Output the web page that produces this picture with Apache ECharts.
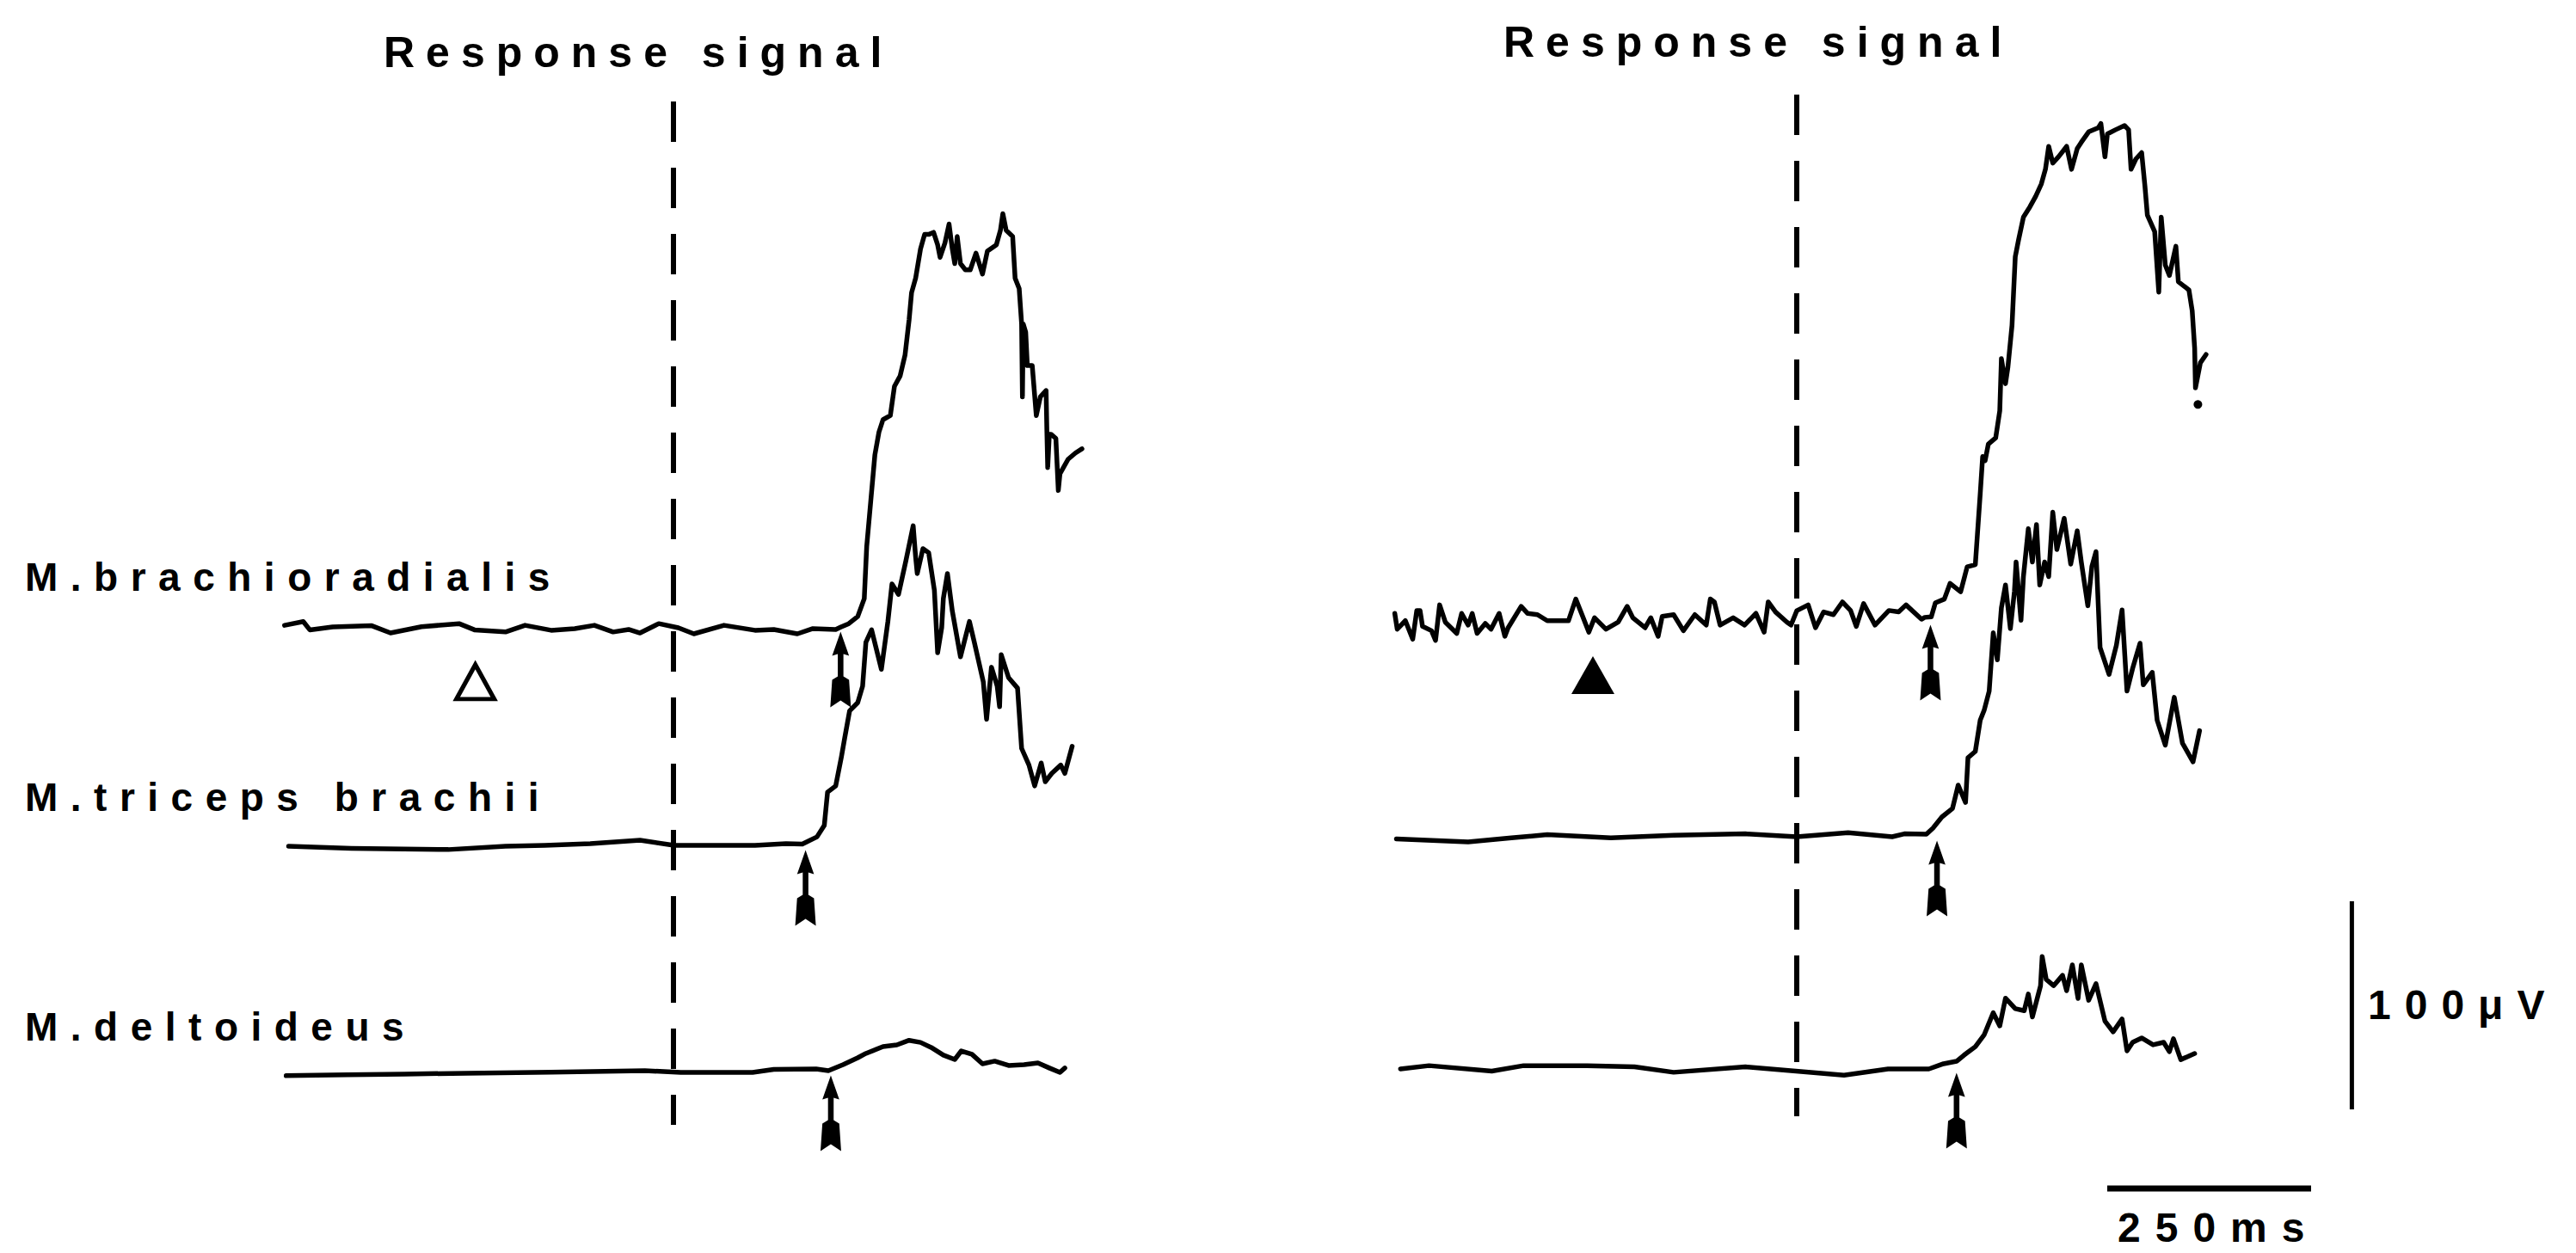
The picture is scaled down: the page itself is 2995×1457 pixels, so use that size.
<!DOCTYPE html>
<html>
<head>
<meta charset="utf-8">
<script src="https://cdn.jsdelivr.net/npm/echarts@6/dist/echarts.min.js"></script>
<style>
html,body{margin:0;padding:0;background:#fff;}
#c{width:2995px;height:1457px;}
#c svg text{letter-spacing:14px;}
</style>
</head>
<body>
<div id="c"></div>
<script>
// ---------------- DATA (time in ms relative to response signal, amplitude in µV) ----------------
const muscleLabels = ['M.brachioradialis', 'M.triceps brachii', 'M.deltoideus'];
const panelTitle = 'Response signal';
const responseSignalMs = 0;
const scaleBarMs = 250;
const scaleBarUV = 100;
const scaleBarLabels = ['100μV', '250ms'];

const leftBrachioradialis = [
  [-477,1.2],[-454,3],[-446,-1],[-418,0.4],[-370,1],[-347,-2.5],[-309,0.5],[-263,2],[-244,-1],[-206,-2],
  [-182,1.2],[-150,-1.2],[-121,-0.4],[-97,1.2],[-74,-2],[-55,-0.8],[-41,-2.5],[-18,2],[6,0],[25,-2.9],
  [62,1.2],[100,-1.2],[123,-0.8],[152,-2.9],[171,-0.4],[199,-0.8],[205,0.3],[215,2],[226,5.4],[234,14],
  [237,39],[242,61],[247,83],[252,94],[257,100],[266,102],[271,116],[278,121],[284,131],[289,148],
  [292,161],[297,168],[303,182],[308,189],[313,189],[319,190],[324,184],[327,178],[333,185],[338,194],
  [342,182],[345,175],[348,188],[352,175],[358,172],[364,172],[371,180],[379,170],[385,181],[396,184],
  [401,191],[404,199],[408,191],[416,188],[419,168],[424,163],[427,146],[428,111],[429,146],[432,142],
  [434,126],[440,126],[445,102],[450,111],[457,114],[458,94],[459,77],[461,93],[463,93],[469,91],
  [472,66],[474,74],[484,81],[493,84],[501,86]
];
const leftTriceps = [
  [-472,0],[-395,-1],[-276,-1.6],[-206,0],[-158,0.4],[-102,1.2],[-41,2.9],[1,0.4],[53,0.4],[100,0.4],
  [138,1.2],[158,1],[176,4.5],[185,10],[189,26],[199,29],[206,43],[210,52],[216,65],[226,69],
  [232,77],[236,98],[243,104],[255,85],[263,108],[268,126],[276,121],[285,137],[294,154],[297,139],
  [299,131],[306,143],[313,141],[320,123],[324,93],[329,105],[331,119],[336,131],[342,113],[352,91],
  [363,108],[369,98],[380,79],[384,61],[390,86],[397,77],[400,67],[402,92],[411,81],[422,76],
  [427,47],[436,39],[443,29],[451,40],[456,31],[464,35],[475,39],[480,35],[489,48]
];
const leftDeltoideus = [
  [-475,-2],[-400,-1.5],[-330,-1.2],[-254,-0.8],[-150,-0.3],[-35,0.4],[9,-0.4],[97,-0.4],[123,1],[175,1.2],
  [190,0.4],[208,3.3],[226,6.6],[236,8.7],[257,12],[274,12.8],[289,15],[303,14],[316,11.6],[331,7.9],
  [345,5.8],[353,9.9],[366,8.3],[379,3.7],[394,5],[411,2.9],[430,3.3],[447,4.1],[461,1.7],[474,-0.4],[480,1.7]
];
const rightBrachioradialis = [
  [-493,3.6],[-490,-4],[-480,0.1],[-471,-8.8],[-466,5],[-462,5],[-459,-2.6],[-448,-4.7],[-443,-9.4],[-438,7.7],
  [-431,-0.6],[-417,-6],[-411,3.6],[-403,-2],[-398,3.6],[-392,-6],[-382,-1.2],[-375,-4],[-365,3.6],[-358,-7.4],
  [-354,-3.3],[-338,7],[-330,3.6],[-318,3],[-306,0.1],[-280,0.1],[-271,10.5],[-264,3.6],[-255,-5.4],[-248,1.5],
  [-234,-4],[-219,-0.6],[-208,7],[-201,1.5],[-186,-3.3],[-179,1.5],[-170,-7.4],[-165,2.2],[-151,3],[-139,-4.7],
  [-125,3],[-111,-2],[-106,10.5],[-101,9.1],[-94,-2],[-78,1.5],[-64,-2],[-50,3.6],[-40,-5.4],[-35,9.1],
  [-26,4.3],[-12,-0.6],[-7,-2],[0,4.9],[14,7.7],[23,-3.3],[33,4.3],[45,3],[56,9.1],[66,5],
  [73,-2.6],[82,8.3],[96,-2],[113,5],[125,4.3],[134,7.7],[153,0.8],[157,1.7],[165,2],[170,8.7],
  [181,10.5],[188,18],[201,14],[209,26],[219,27],[225,61],[228,79],[231,77],[235,85],[244,88],
  [249,101],[251,126],[256,114],[259,122],[264,142],[268,175],[272,183],[278,194],[286,199],[293,204],
  [300,210],[305,217],[309,228],[314,220],[321,223],[331,228],[337,217],[344,227],[349,230],[358,235],
  [370,237],[373,239],[378,223],[381,234],[391,236],[402,238],[407,236],[410,217],[416,222],[423,225],
  [427,209],[430,195],[439,187],[444,158],[447,194],[452,171],[457,166],[465,180],[468,163],[481,159],
  [485,149],[488,131],[489,112],[495,124],[502,128]
];
const rightBrachioradialisDot = [[492,104]];
const rightTriceps = [
  [-491,-1],[-403,-2.5],[-350,-0.5],[-306,1],[-228,-0.5],[-151,0.7],[-63,1.4],[0,0],[63,2],[117,0],
  [132,1.4],[159,1.2],[167,4.1],[178,9.5],[191,13.6],[198,24.8],[207,16.5],[210,38],[219,41],[225,56],
  [230,61],[236,70],[241,98],[246,85],[251,110],[256,121],[262,100],[267,118],[269,132],[275,104],
  [278,125],[284,148],[289,132],[294,150],[298,121],[304,132],[309,125],[314,156],[319,138],[328,153],
  [336,131],[344,147],[349,132],[357,111],[362,130],[367,137],[372,91],[383,78],[392,92],[399,109],
  [405,70],[412,81],[421,93],[425,73],[436,79],[442,56],[452,44],[463,67],[473,45],[486,36],[494,51]
];
const rightDeltoideus = [
  [-486,0],[-451,1.6],[-374,-1],[-335,1.6],[-257,1.6],[-199,1],[-151,-1.6],[-63,1],[58,-3],[112,0],
  [162,0],[180,2.5],[196,3.7],[205,6.6],[219,10.7],[230,16.5],[241,27],[249,20.7],[256,34],[268,29],
  [279,28],[284,36],[289,25],[299,40],[301,54],[306,43],[315,40],[326,45],[331,37.6],[338,50],
  [345,33.9],[349,50],[358,33],[367,41],[378,23],[388,17.8],[399,24],[405,8.7],[412,12.8],[423,14.9],
  [437,11.6],[450,12.8],[457,8.3],[462,14.5],[471,4.5],[488,7.4]
];
// EMG onset times (arrows), ms, for brachioradialis / triceps / deltoideus
const leftOnsets = [205, 162, 193];
const rightOnsets = [164, 172, 196];
// condition markers (open = left, filled = right), ms
const conditionMarkerMs = [-243, -250];

// ---------------- LAYOUT ----------------
const PX_PER_MS = 0.948, PX_PER_UV = 2.42;
const X_RANGE = [-550, 550];
const Y_RANGE = [-50, 250];
const panelZeroX = [783, 2089];
const baselines = [[730, 984, 1246], [722, 973, 1243]];
const dashTopBottom = [[118, 1308], [110, 1298]];
const ARROW = 'path://M12 0 L21 28 L15 26 L15 52 L21 56 L23 88 L12 80 L1 88 L3 56 L9 52 L9 26 L3 28 Z';
const FONT = '"Liberation Sans", Arial, Helvetica, sans-serif';
const TRACE_W = 5.5;

const grids = [], xAxes = [], yAxes = [], series = [];
function addGrid(left, top, xr, yr) {
  const w = (xr[1] - xr[0]) * PX_PER_MS;
  const h = (yr[1] - yr[0]) * PX_PER_UV;
  grids.push({left: left, top: top, width: w, height: h, containLabel: false});
  const i = grids.length - 1;
  xAxes.push({type: 'value', gridIndex: i, min: xr[0], max: xr[1], show: false});
  yAxes.push({type: 'value', gridIndex: i, min: yr[0], max: yr[1], show: false});
  return i;
}
function traceSeries(i, data) {
  return {type: 'line', xAxisIndex: i, yAxisIndex: i, data: data, symbol: 'none', showSymbol: false,
    silent: true, animation: false, clip: false,
    lineStyle: {color: '#000', width: TRACE_W, join: 'round', cap: 'round', opacity: 1}};
}
function scatterSeries(i, data, symbol, size, itemStyle) {
  itemStyle.opacity = 1;
  return {type: 'scatter', xAxisIndex: i, yAxisIndex: i, data: data, symbol: symbol, symbolSize: size,
    silent: true, animation: false, clip: false, itemStyle: itemStyle};
}

const traces = [[leftBrachioradialis, leftTriceps, leftDeltoideus], [rightBrachioradialis, rightTriceps, rightDeltoideus]];
const onsets = [leftOnsets, rightOnsets];

for (let p = 0; p < 2; p++) {
  const left = panelZeroX[p] - (0 - X_RANGE[0]) * PX_PER_MS;
  // dashed response-signal line: own grid spanning its vertical extent
  const dTop = dashTopBottom[p][0], dBot = dashTopBottom[p][1];
  grids.push({left: left, top: dTop, width: (X_RANGE[1] - X_RANGE[0]) * PX_PER_MS, height: dBot - dTop});
  const di = grids.length - 1;
  xAxes.push({type: 'value', gridIndex: di, min: X_RANGE[0], max: X_RANGE[1], show: false});
  yAxes.push({type: 'value', gridIndex: di, min: 0, max: 1, show: false});
  series.push({type: 'line', xAxisIndex: di, yAxisIndex: di, symbol: 'none', silent: true, animation: false,
    data: [[responseSignalMs, 1], [responseSignalMs, 0]],
    lineStyle: {color: '#000', width: 6, type: [47, 30], cap: 'butt', opacity: 1}});

  for (let k = 0; k < 3; k++) {
    const top = baselines[p][k] - Y_RANGE[1] * PX_PER_UV;
    const gi = addGrid(left, top, X_RANGE, Y_RANGE);
    series.push(traceSeries(gi, traces[p][k]));
    series.push(scatterSeries(gi, [[onsets[p][k], -20]], ARROW, [24, 88], {color: '#000'}));
    if (k === 0) {
      if (p === 0) {
        series.push(scatterSeries(gi, [[conditionMarkerMs[0], -26]], 'triangle', [44, 40],
          {color: '#fff', borderColor: '#000', borderWidth: 5}));
      } else {
        series.push(scatterSeries(gi, [[conditionMarkerMs[1], -26]], 'triangle', [50, 44], {color: '#000'}));
        series.push(scatterSeries(gi, rightBrachioradialisDot, 'circle', 10, {color: '#000'}));
      }
    }
  }
}

// scale bars grid (same ms / µV scales)
const sbi = addGrid(2450, 1290 - 150 * PX_PER_UV, [0, 400], [-50, 150]);
series.push({type: 'line', xAxisIndex: sbi, yAxisIndex: sbi, symbol: 'none', silent: true, animation: false,
  data: [[0, -38], [scaleBarMs, -38]], lineStyle: {color: '#000', width: 7, opacity: 1}});
series.push({type: 'line', xAxisIndex: sbi, yAxisIndex: sbi, symbol: 'none', silent: true, animation: false,
  data: [[300, 0], [300, scaleBarUV]], lineStyle: {color: '#000', width: 5, opacity: 1}});

function txt(text, x, y, size) {
  return {type: 'text', x: x, y: y, silent: true,
    style: {text: text, x: 0, y: 0, fill: '#000', font: 'bold ' + size + 'px ' + FONT,
      align: 'left', verticalAlign: 'middle', textAlign: 'left', textVerticalAlign: 'middle'}};
}
const graphic = [
  txt(panelTitle, 446, 61, 50),
  txt(panelTitle, 1748, 49, 50),
  txt(muscleLabels[0], 29, 671, 46),
  txt(muscleLabels[1], 29, 927, 46),
  txt(muscleLabels[2], 29, 1194, 46),
  txt(scaleBarLabels[0], 2753, 1168, 48),
  txt(scaleBarLabels[1], 2462, 1427, 48)
];
// letter spacing per text (px), matching the wide typewriter spacing of the figure
const spacing = {};
spacing[panelTitle] = '13px';
muscleLabels.forEach(function (m) { spacing[m] = '14.5px'; });
spacing[scaleBarLabels[0]] = '16px';
spacing[scaleBarLabels[1]] = '17px';

const chart = echarts.init(document.getElementById('c'), null, {renderer: 'svg', width: 2995, height: 1457});
chart.setOption({
  animation: false,
  backgroundColor: '#fff',
  grid: grids, xAxis: xAxes, yAxis: yAxes, series: series, graphic: graphic
});
function fixSpacing() {
  document.querySelectorAll('#c svg text').forEach(function (t) {
    const s = spacing[t.textContent];
    if (s) t.style.letterSpacing = s;
  });
}
fixSpacing();
chart.on('finished', fixSpacing);
setTimeout(fixSpacing, 50);
</script>
</body>
</html>
